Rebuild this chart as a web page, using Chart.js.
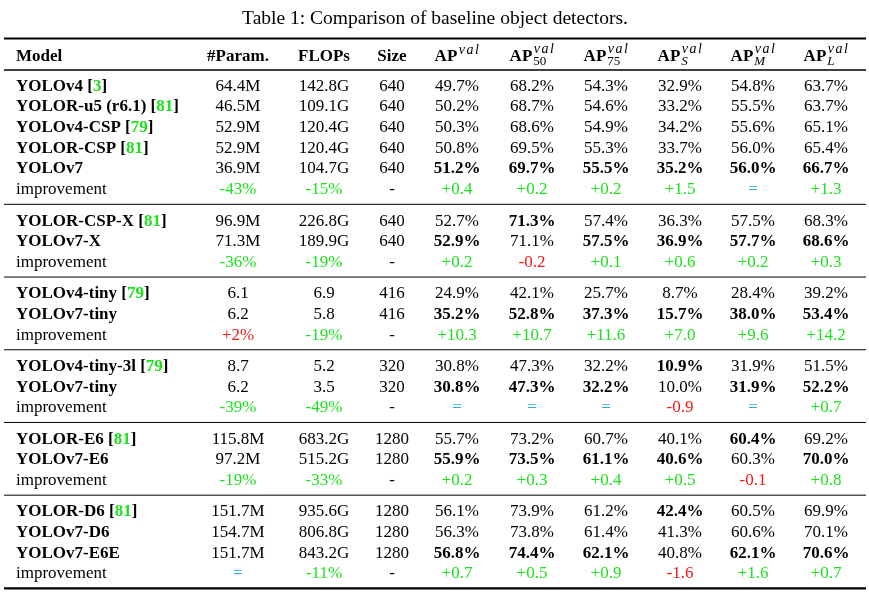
<!DOCTYPE html>
<html>
<head>
<meta charset="utf-8">
<script src="https://cdn.jsdelivr.net/npm/chart.js@4.4.0/dist/chart.umd.min.js"></script>
<style>
  body { margin: 0; background: #fff; }
  canvas { display: block; }
</style>
</head>
<body>
<canvas id="table" width="869" height="602"></canvas>
<script>
// table content ------------------------------------------------------------
const title = "Table 1: Comparison of baseline object detectors.";
const headers = ["Model", "#Param.", "FLOPs", "Size", "AP", "AP", "AP", "AP", "AP", "AP"];
const headerSubs = ["", "", "", "", "", "50", "75", "S", "M", "L"];
const groupSizes = [6, 3, 3, 3, 3, 4];

const models = [
  "YOLOv4", "YOLOR-u5 (r6.1)", "YOLOv4-CSP", "YOLOR-CSP", "YOLOv7", "improvement",
  "YOLOR-CSP-X", "YOLOv7-X", "improvement",
  "YOLOv4-tiny", "YOLOv7-tiny", "improvement",
  "YOLOv4-tiny-3l", "YOLOv7-tiny", "improvement",
  "YOLOR-E6", "YOLOv7-E6", "improvement",
  "YOLOR-D6", "YOLOv7-D6", "YOLOv7-E6E", "improvement"
];
const refs = [
  "3", "81", "79", "81", "", "",
  "81", "", "",
  "79", "", "",
  "79", "", "",
  "81", "", "",
  "81", "", "", ""
];
const params = [
  "64.4M", "46.5M", "52.9M", "52.9M", "36.9M", "-43%",
  "96.9M", "71.3M", "-36%",
  "6.1", "6.2", "+2%",
  "8.7", "6.2", "-39%",
  "115.8M", "97.2M", "-19%",
  "151.7M", "154.7M", "151.7M", "="
];
const flops = [
  "142.8G", "109.1G", "120.4G", "120.4G", "104.7G", "-15%",
  "226.8G", "189.9G", "-19%",
  "6.9", "5.8", "-19%",
  "5.2", "3.5", "-49%",
  "683.2G", "515.2G", "-33%",
  "935.6G", "806.8G", "843.2G", "-11%"
];
const sizes = [
  "640", "640", "640", "640", "640", "-",
  "640", "640", "-",
  "416", "416", "-",
  "320", "320", "-",
  "1280", "1280", "-",
  "1280", "1280", "1280", "-"
];
const apVal = [
  "49.7%", "50.2%", "50.3%", "50.8%", "51.2%", "+0.4",
  "52.7%", "52.9%", "+0.2",
  "24.9%", "35.2%", "+10.3",
  "30.8%", "30.8%", "=",
  "55.7%", "55.9%", "+0.2",
  "56.1%", "56.3%", "56.8%", "+0.7"
];
const ap50 = [
  "68.2%", "68.7%", "68.6%", "69.5%", "69.7%", "+0.2",
  "71.3%", "71.1%", "-0.2",
  "42.1%", "52.8%", "+10.7",
  "47.3%", "47.3%", "=",
  "73.2%", "73.5%", "+0.3",
  "73.9%", "73.8%", "74.4%", "+0.5"
];
const ap75 = [
  "54.3%", "54.6%", "54.9%", "55.3%", "55.5%", "+0.2",
  "57.4%", "57.5%", "+0.1",
  "25.7%", "37.3%", "+11.6",
  "32.2%", "32.2%", "=",
  "60.7%", "61.1%", "+0.4",
  "61.2%", "61.4%", "62.1%", "+0.9"
];
const apS = [
  "32.9%", "33.2%", "34.2%", "33.7%", "35.2%", "+1.5",
  "36.3%", "36.9%", "+0.6",
  "8.7%", "15.7%", "+7.0",
  "10.9%", "10.0%", "-0.9",
  "40.1%", "40.6%", "+0.5",
  "42.4%", "41.3%", "40.8%", "-1.6"
];
const apM = [
  "54.8%", "55.5%", "55.6%", "56.0%", "56.0%", "=",
  "57.5%", "57.7%", "+0.2",
  "28.4%", "38.0%", "+9.6",
  "31.9%", "31.9%", "=",
  "60.4%", "60.3%", "-0.1",
  "60.5%", "60.6%", "62.1%", "+1.6"
];
const apL = [
  "63.7%", "63.7%", "65.1%", "65.4%", "66.7%", "+1.3",
  "68.3%", "68.6%", "+0.3",
  "39.2%", "53.4%", "+14.2",
  "51.5%", "52.2%", "+0.7",
  "69.2%", "70.0%", "+0.8",
  "69.9%", "70.1%", "70.6%", "+0.7"
];

// layout / style -----------------------------------------------------------
const SERIF = "'Liberation Serif', 'Times New Roman', serif";
const FS = 17;
const colX = [16, 238, 324, 392, 457, 532, 606, 680, 753, 826];
const titleY = 19, topRuleY = 38.5, headerY = 55, headerRuleY = 70;
const firstRowY = 85.3, rowStep = 20.67, groupGap = 10.7;
const ruleLeft = 4, ruleRight = 866;
const GREEN = "#1ee11e", RED = "#f01818", CYAN = "#2aa9e6";

const columns = [models, params, flops, sizes, apVal, ap50, ap75, apS, apM, apL];

const rowY = [];
const ruleY = [];
let yy = firstRowY;
groupSizes.forEach(function(n, g) {
  for (let i = 0; i < n; i++) {
    rowY.push(yy);
    yy += rowStep;
  }
  const last = yy - rowStep;
  if (g < groupSizes.length - 1) {
    ruleY.push({ y: last + (rowStep + groupGap) / 2, w: 1 });
  } else {
    ruleY.push({ y: last + 15.5, w: 2.2 });
  }
  yy += groupGap;
});
ruleY.push({ y: topRuleY, w: 2.2 });
ruleY.push({ y: headerRuleY, w: 1.3 });

// best AP per group (ties go to the later row)
const isBest = {};
for (let c = 4; c < columns.length; c++) {
  let start = 0;
  groupSizes.forEach(function(n) {
    let best = -1, bestVal = -Infinity;
    for (let r = start; r < start + n; r++) {
      if (models[r] === "improvement") continue;
      const v = parseFloat(columns[c][r]);
      if (v >= bestVal) { bestVal = v; best = r; }
    }
    isBest[best + "_" + c] = true;
    start += n;
  });
}

function improvementColor(c, v) {
  if (v === "=") return CYAN;
  if (v === "-") return "#000";
  const sign = v.charAt(0);
  if (c === 1 || c === 2) return sign === "-" ? GREEN : RED;
  return sign === "+" ? GREEN : RED;
}

// one point per cell, placed through the scales
const cells = [];
headers.forEach(function(h, c) {
  cells.push({ x: colX[c], y: headerY, kind: "header", col: c, text: h, sub: headerSubs[c] });
});
models.forEach(function(m, r) {
  const impr = m === "improvement";
  for (let c = 0; c < columns.length; c++) {
    const v = columns[c][r];
    cells.push({
      x: colX[c], y: rowY[r], kind: "cell", col: c, text: v,
      ref: c === 0 ? refs[r] : "",
      bold: c === 0 ? !impr : !!isBest[r + "_" + c],
      color: impr && c > 0 ? improvementColor(c, v) : "#000"
    });
  }
});

const tablePlugin = {
  id: "tableText",
  beforeDatasetsDraw: function(chart) {
    const ctx = chart.ctx;
    const xs = chart.scales.x, ys = chart.scales.y;
    ctx.save();
    ctx.strokeStyle = "#000";
    ruleY.forEach(function(r) {
      const py = ys.getPixelForValue(r.y);
      ctx.lineWidth = r.w;
      ctx.beginPath();
      ctx.moveTo(xs.getPixelForValue(ruleLeft), py);
      ctx.lineTo(xs.getPixelForValue(ruleRight), py);
      ctx.stroke();
    });
    ctx.fillStyle = "#000";
    ctx.font = "19.5px " + SERIF;
    ctx.textAlign = "center";
    ctx.textBaseline = "middle";
    ctx.fillText(title, xs.getPixelForValue(435), ys.getPixelForValue(titleY));
    ctx.restore();
  },
  afterDatasetsDraw: function(chart) {
    const ctx = chart.ctx;
    const meta = chart.getDatasetMeta(0);
    ctx.save();
    ctx.textBaseline = "alphabetic";
    meta.data.forEach(function(pt, i) {
      const d = chart.data.datasets[0].data[i];
      const base = pt.y + 5.5;
      if (d.kind === "header") {
        ctx.fillStyle = "#000";
        ctx.font = "bold " + FS + "px " + SERIF;
        if (d.col < 4) {
          ctx.textAlign = d.col === 0 ? "left" : "center";
          ctx.fillText(d.text, pt.x, base);
          return;
        }
        // AP with superscript "val" and optional subscript
        ctx.textAlign = "left";
        const wAP = ctx.measureText(d.text).width;
        const supFont = "italic 14px " + SERIF;
        const subFont = (/[SML]/.test(d.sub) ? "italic " : "") + "13px " + SERIF;
        ctx.font = supFont;
        const wSup = ctx.measureText("val").width + 4;
        ctx.font = subFont;
        const wSub = d.sub ? ctx.measureText(d.sub).width : 0;
        const total = wAP + 1 + Math.max(wSup, wSub);
        const x0 = pt.x - total / 2;
        ctx.font = "bold " + FS + "px " + SERIF;
        ctx.fillText(d.text, x0, base);
        ctx.font = supFont;
        let sx = x0 + wAP + 1.5;
        "val".split("").forEach(function(ch) {
          ctx.fillText(ch, sx, base - (d.sub ? 8 : 7));
          sx += ctx.measureText(ch).width + 1.5;
        });
        if (d.sub) {
          ctx.font = subFont;
          ctx.fillText(d.sub, x0 + wAP + 1, base + 4);
        }
        return;
      }
      ctx.fillStyle = d.color;
      ctx.font = (d.bold ? "bold " : "") + FS + "px " + SERIF;
      if (d.col === 0) {
        ctx.textAlign = "left";
        let x = pt.x;
        const head = d.ref ? d.text + " [" : d.text;
        ctx.fillText(head, x, base);
        if (d.ref) {
          x += ctx.measureText(head).width;
          ctx.fillStyle = GREEN;
          ctx.fillText(d.ref, x, base);
          x += ctx.measureText(d.ref).width;
          ctx.fillStyle = "#000";
          ctx.fillText("]", x, base);
        }
      } else {
        ctx.textAlign = "center";
        ctx.fillText(d.text, pt.x, base);
      }
    });
    ctx.restore();
  }
};

const tableChart = new Chart(document.getElementById("table"), {
  type: "scatter",
  data: {
    datasets: [{ data: cells, pointRadius: 0, pointHoverRadius: 0 }]
  },
  options: {
    responsive: false,
    animation: false,
    events: [],
    layout: { padding: 0 },
    plugins: {
      legend: { display: false },
      tooltip: { enabled: false }
    },
    scales: {
      x: { type: "linear", display: false, min: 0, max: 869 },
      y: { type: "linear", display: false, min: 0, max: 602, reverse: true }
    }
  },
  plugins: [tablePlugin]
});
</script>
</body>
</html>
